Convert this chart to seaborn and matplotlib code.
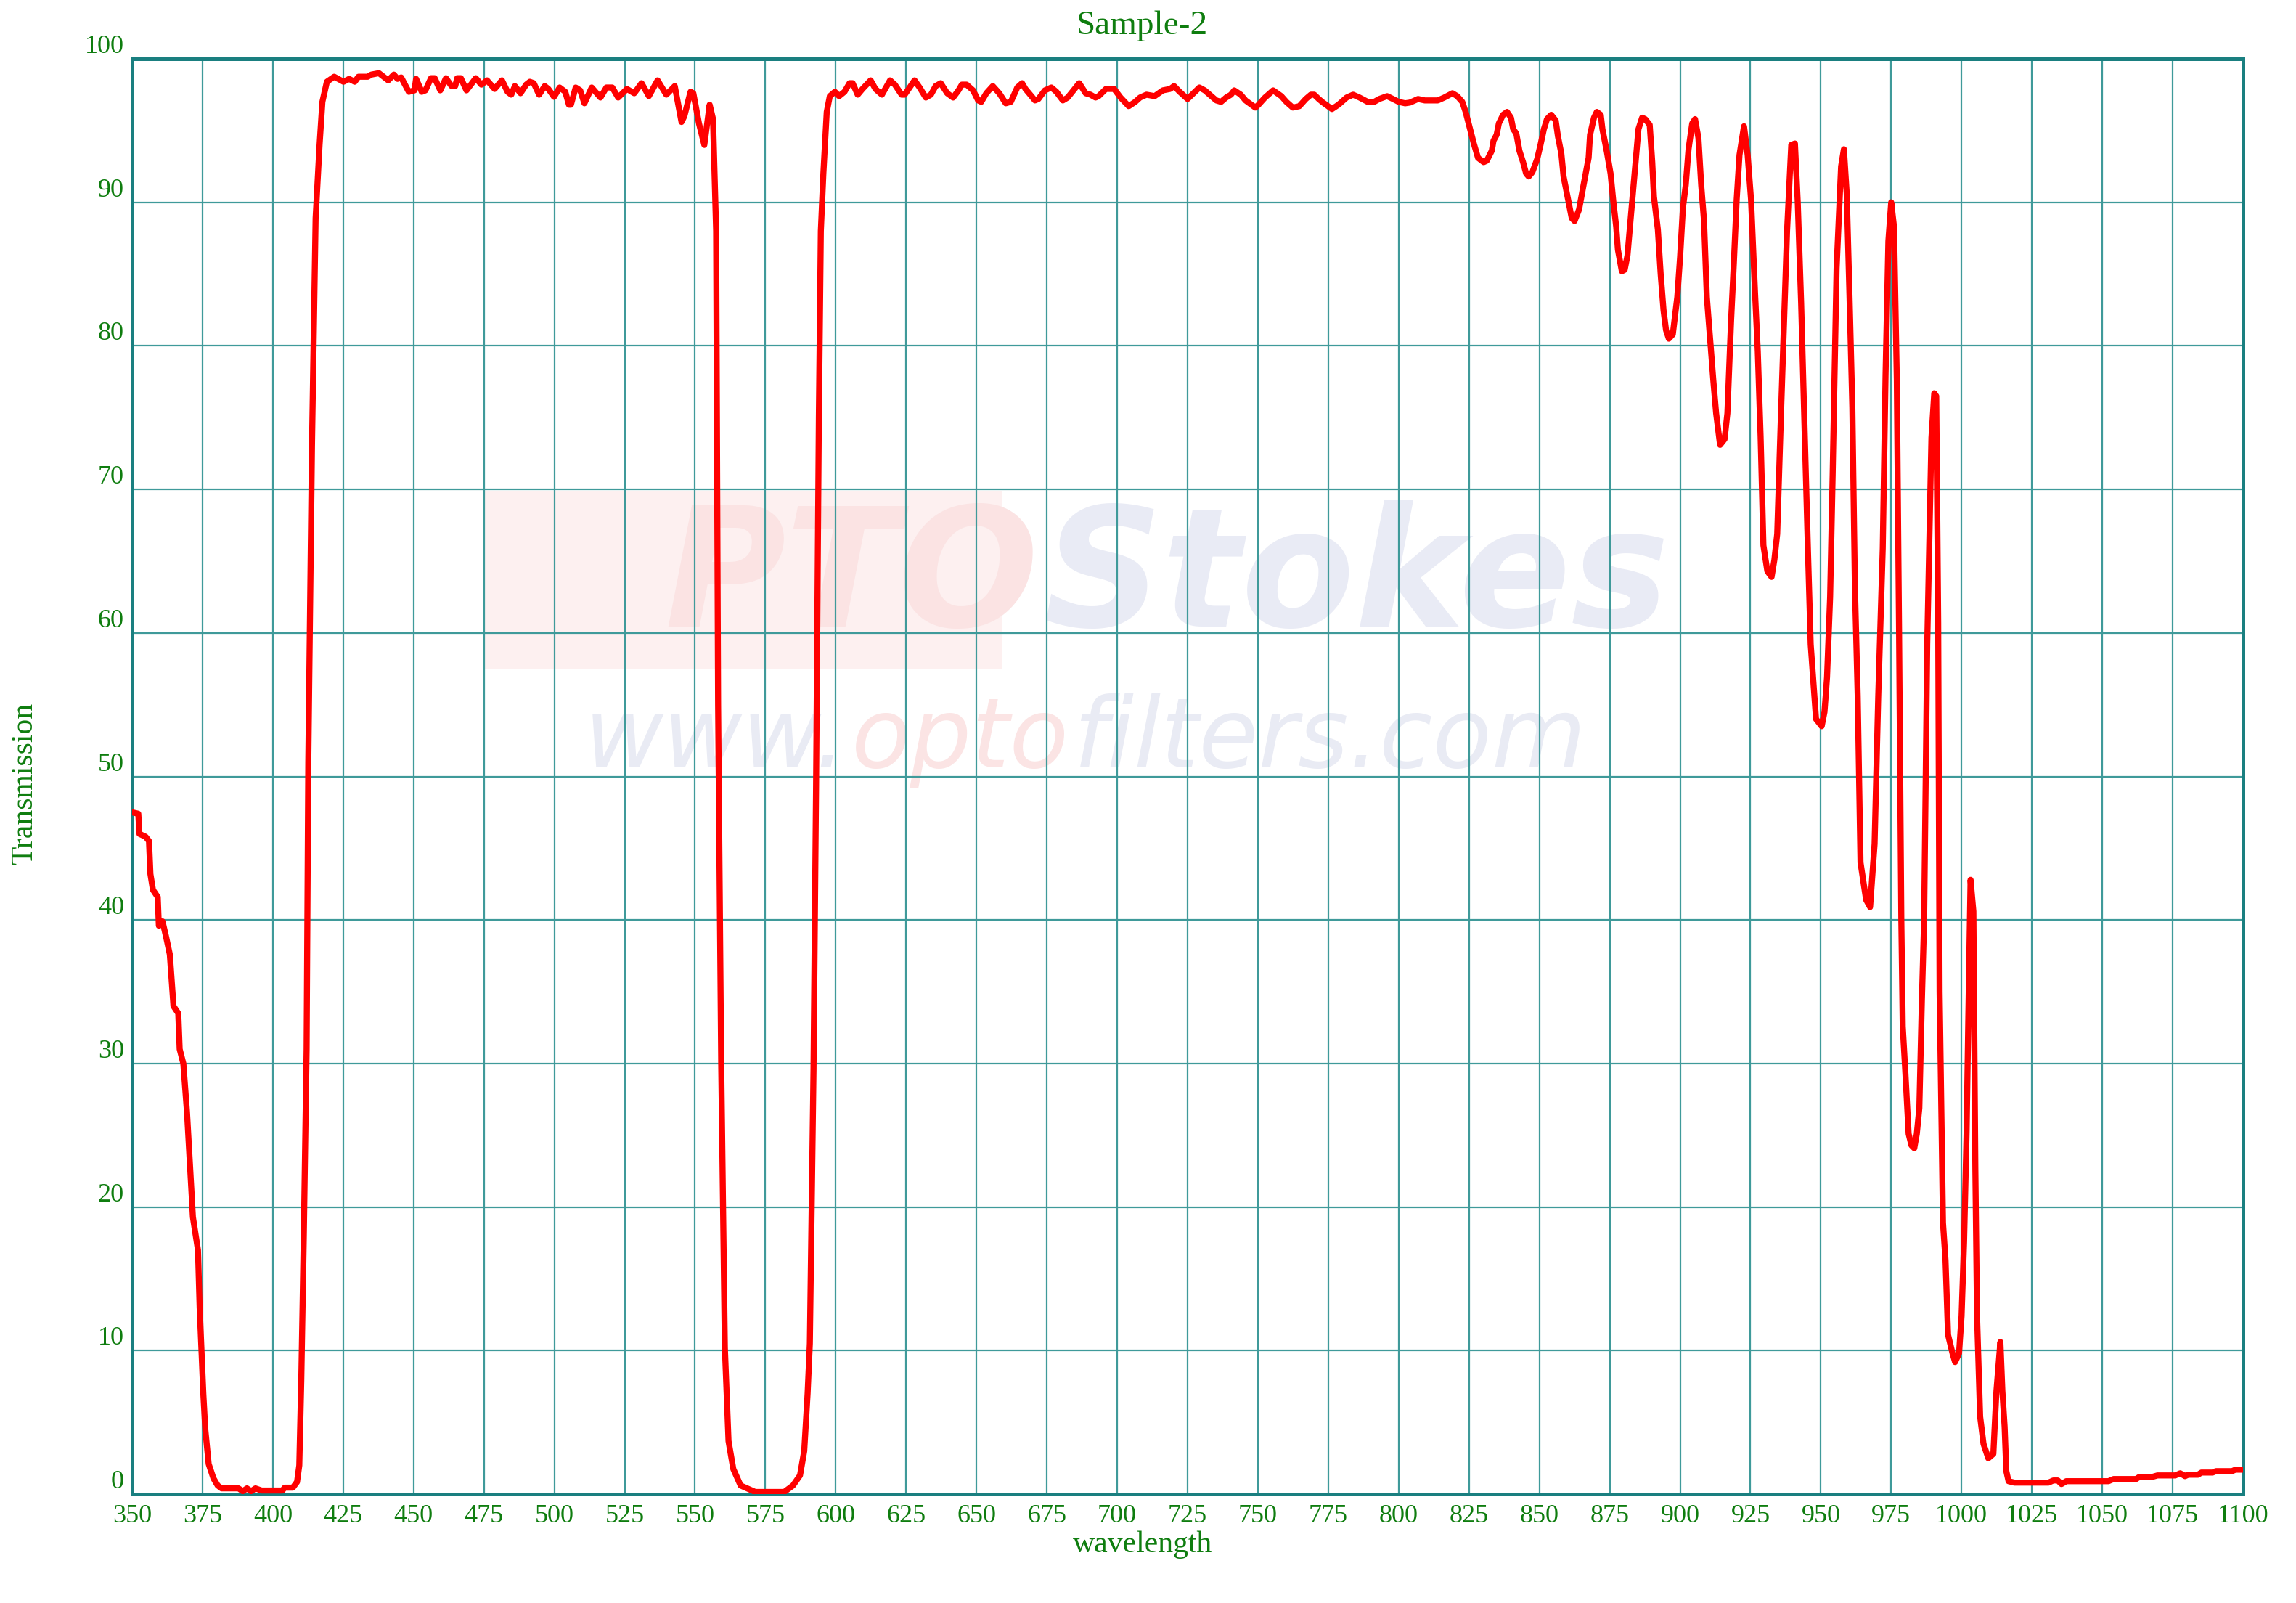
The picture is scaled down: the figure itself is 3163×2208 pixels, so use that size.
import matplotlib
matplotlib.use("Agg")
import matplotlib.pyplot as plt
import seaborn as sns
import pandas as pd
from matplotlib.patches import Rectangle

# ---------------- data ----------------
wavelength = [
    350, 352.2, 352.6, 354.8, 356.0, 356.5, 357.4, 359.1, 359.5, 360.8, 362.1, 363.4, 364.7, 366.4, 366.9,
    368.2, 369.5, 371.6, 373.4, 374.0, 375.3, 376.0, 377.2, 378.9, 380.4, 381.8, 387.8, 389.3, 390.8, 392.3,
    393.8, 396.0, 403.4, 404.2, 407.1, 408.6, 409.4, 410.1, 411.0, 412.0, 412.6, 413.9, 415.2, 416.6, 417.6,
    419.2, 421.8, 425.1, 427.1, 429.1, 430.4, 433.7, 435.0, 437.7, 441.0, 443.0, 444.3, 445.6, 448.3, 450.3,
    450.9, 452.9, 454.2, 456.2, 457.5, 459.5, 461.5, 463.5, 464.8, 465.5, 466.8, 468.8, 472.1, 474.1, 476.1,
    478.8, 481.4, 483.4, 484.7, 486.0, 488.0, 490.0, 491.3, 492.7, 494.6, 496.6, 497.9, 499.9, 501.9, 503.9,
    505.2, 505.9, 507.6, 509.2, 510.7, 513.3, 516.4, 518.5, 520.6, 522.7, 525.8, 528.4, 531.0, 533.6, 536.7,
    539.8, 542.8, 545.2, 546.2, 548.4, 549.4, 551.4, 553.3, 555.2, 556.4, 557.5, 558.2, 559.3, 560.6, 561.9,
    563.6, 566.2, 571.4, 581.7, 584.8, 587.3, 588.8, 590.0, 590.8, 592.1, 593.0, 594.0, 594.7, 595.6, 596.8,
    597.9, 599.7, 601.2, 603.1, 604.9, 606.0, 607.8, 609.5, 612.4, 614.1, 616.4, 619.3, 621.0, 623.4, 624.5,
    628.0, 629.8, 632.0, 633.8, 635.5, 637.3, 639.6, 641.7, 643.6, 644.8, 646.5, 648.8, 650.6, 651.7, 653.5,
    655.8, 658.1, 660.4, 662.2, 664.5, 666.2, 667.4, 670.8, 672.0, 674.3, 676.6, 678.4, 680.7, 682.4, 686.5,
    688.8, 690.5, 692.3, 693.4, 696.0, 698.9, 701.2, 704.1, 706.4, 708.1, 710.4, 713.3, 716.2, 718.8, 720.2,
    722.2, 725.0, 727.1, 729.2, 731.1, 734.0, 735.2, 736.9, 738.7, 740.4, 741.6, 743.9, 745.6, 749.1, 750.2,
    752.5, 755.4, 758.3, 760.1, 762.4, 764.7, 767.0, 768.8, 770.0, 771.6, 772.8, 776.3, 778.6, 781.5, 783.8,
    786.1, 789.0, 791.3, 793.1, 795.9, 798.0, 800.0, 802.3, 804.0, 806.9, 809.3, 813.9, 816.2, 819.1, 820.8,
    822.6, 823.8, 825.5, 826.7, 828.2, 830.2, 831.3, 833.1, 833.7, 834.8, 835.6, 837.1, 838.5, 839.9, 840.7,
    841.8, 842.9, 844.2, 845.3, 846.2, 847.5, 849.2, 850.4, 851.6, 852.7, 854.2, 855.8, 856.6, 857.8, 858.6,
    860.6, 861.5, 862.5, 864.1, 865.5, 867.5, 868.0, 869.4, 870.4, 871.8, 872.4, 874.0, 875.3, 876.3, 877.3,
    877.9, 879.3, 880.3, 881.3, 882.8, 883.8, 885.2, 886.5, 887.6, 889.2, 890.1, 890.7, 892.1, 893.1, 894.1,
    895.0, 896.0, 897.4, 899.0, 900.0, 901.0, 902.0, 903.0, 904.3, 905.3, 906.5, 907.5, 908.5, 909.5, 910.5,
    911.8, 912.8, 914.2, 915.8, 916.8, 918.1, 919.1, 920.1, 921.1, 922.7, 924.0, 925.2, 926.6, 927.6, 928.6,
    929.6, 931.0, 932.5, 933.5, 934.5, 935.8, 937.0, 938.0, 939.5, 940.8, 941.8, 943.0, 944.4, 945.4, 946.4,
    948.3, 950.3, 951.3, 952.2, 953.3, 954.2, 955.6, 957.2, 958.2, 959.2, 960.2, 961.2, 962.1, 963.1, 964.1,
    966.1, 967.5, 969.1, 970.4, 972.0, 973.0, 974.0, 975.0, 976.0, 977.0, 977.8, 978.6, 979.1, 980.0, 981.2,
    982.2, 983.2, 984.1, 985.0, 985.9, 986.7, 987.8, 989.3, 990.3, 991.0, 991.7, 992.2, 993.4, 994.3, 995.2,
    996.8, 997.7, 999.1, 1000.0, 1000.9, 1001.8, 1002.4, 1003.2, 1004.2, 1004.9, 1005.5, 1006.6, 1007.8, 1009.5, 1011.3,
    1012.4, 1013.8, 1014.5, 1015.3, 1015.9, 1016.7, 1018.8, 1030.9, 1032.6, 1034.2, 1035.5, 1037.2, 1052.2, 1054.0, 1062.0,
    1063.2, 1067.8, 1069.6, 1075.9, 1077.7, 1079.4, 1080.5, 1084.0, 1085.2, 1089.2, 1090.4, 1096.1, 1097.3, 1100.0,
]
transmission = [
    47.5, 47.4, 46.0, 45.8, 45.5, 43.2, 42.1, 41.6, 39.6, 39.9, 38.8, 37.6, 34.0, 33.5, 31.0,
    30.0, 26.6, 19.3, 17.0, 13.0, 7.0, 4.5, 2.1, 1.1, 0.6, 0.4, 0.4, 0.2, 0.4, 0.2,
    0.4, 0.25, 0.25, 0.45, 0.45, 0.85, 2.0, 7.9, 18.0, 31.0, 51.0, 73.0, 88.9, 94.0, 97.0,
    98.4, 98.75, 98.4, 98.6, 98.4, 98.75, 98.75, 98.9, 99.0, 98.5, 98.9, 98.6, 98.7, 97.7, 97.8,
    98.6, 97.7, 97.8, 98.65, 98.65, 97.8, 98.65, 98.1, 98.1, 98.65, 98.65, 97.8, 98.65, 98.2, 98.5,
    97.9, 98.5, 97.7, 97.5, 98.1, 97.6, 98.2, 98.4, 98.3, 97.5, 98.1, 97.9, 97.35, 98.0, 97.7,
    96.8, 96.8, 98.0, 97.8, 96.9, 98.0, 97.3, 98.0, 98.0, 97.3, 97.9, 97.6, 98.3, 97.4, 98.5,
    97.5, 98.1, 95.6, 96.0, 97.7, 97.6, 95.5, 94.0, 96.8, 95.8, 88.0, 55.0, 30.0, 10.2, 3.7,
    1.75, 0.6, 0.15, 0.15, 0.6, 1.3, 3.0, 7.0, 10.5, 29.6, 49.1, 75.0, 88.0, 92.0, 96.3,
    97.4, 97.7, 97.4, 97.7, 98.3, 98.3, 97.5, 97.9, 98.5, 97.9, 97.5, 98.5, 98.2, 97.5, 97.5,
    98.5, 98.0, 97.3, 97.5, 98.1, 98.3, 97.6, 97.3, 97.8, 98.2, 98.2, 97.8, 97.1, 97.0, 97.6,
    98.1, 97.6, 96.9, 97.0, 98.0, 98.3, 97.9, 97.1, 97.2, 97.8, 98.0, 97.7, 97.1, 97.3, 98.3,
    97.6, 97.5, 97.3, 97.4, 97.9, 97.9, 97.3, 96.7, 97.0, 97.3, 97.5, 97.4, 97.8, 97.9, 98.1,
    97.7, 97.2, 97.6, 98.0, 97.8, 97.3, 97.1, 97.0, 97.3, 97.5, 97.8, 97.5, 97.1, 96.6, 96.8,
    97.3, 97.8, 97.4, 97.0, 96.6, 96.7, 97.2, 97.5, 97.5, 97.2, 97.0, 96.5, 96.8, 97.3, 97.5,
    97.3, 97.0, 97.0, 97.2, 97.4, 97.2, 97.0, 96.9, 96.95, 97.2, 97.1, 97.1, 97.3, 97.6, 97.4,
    97.0, 96.3, 95.0, 94.1, 93.1, 92.8, 92.9, 93.6, 94.3, 94.7, 95.5, 96.1, 96.3, 95.9, 95.1,
    94.8, 93.6, 92.8, 92.0, 91.8, 92.1, 93.0, 94.0, 95.1, 95.8, 96.1, 95.7, 94.6, 93.4, 91.8,
    89.8, 88.9, 88.7, 89.5, 91.0, 93.1, 94.7, 95.9, 96.3, 96.1, 95.1, 93.5, 92.0, 90.0, 88.3,
    86.7, 85.2, 85.3, 86.3, 89.7, 92.0, 95.1, 95.9, 95.8, 95.4, 92.8, 90.4, 88.1, 85.0, 82.5,
    81.1, 80.5, 80.8, 83.4, 86.2, 89.6, 91.2, 93.7, 95.5, 95.8, 94.5, 91.2, 88.7, 83.4, 80.9,
    77.6, 75.3, 73.1, 73.5, 75.3, 81.7, 85.8, 90.2, 93.3, 95.3, 93.3, 90.2, 83.8, 79.6, 73.7,
    66.1, 64.3, 63.9, 65.1, 66.9, 75.0, 82.0, 88.0, 94.0, 94.1, 90.0, 83.0, 73.0, 65.9, 59.2,
    54.0, 53.5, 54.5, 56.9, 62.5, 71.0, 85.4, 92.5, 93.7, 90.6, 83.4, 75.7, 63.3, 55.6, 44.0,
    41.4, 40.9, 45.3, 55.6, 65.9, 78.0, 87.3, 90.0, 88.3, 77.6, 60.0, 40.0, 32.6, 29.5, 25.1,
    24.3, 24.1, 25.1, 26.9, 34.4, 40.0, 59.2, 73.6, 76.7, 76.5, 60.7, 35.0, 18.9, 16.3, 11.1,
    9.8, 9.2, 9.8, 12.4, 17.6, 25.3, 33.1, 42.8, 40.6, 22.7, 12.4, 5.4, 3.5, 2.5, 2.8,
    7.2, 10.6, 7.2, 4.7, 1.6, 0.9, 0.8, 0.8, 0.95, 0.95, 0.7, 0.9, 0.9, 1.05, 1.05,
    1.2, 1.2, 1.3, 1.3, 1.45, 1.25, 1.35, 1.35, 1.5, 1.5, 1.6, 1.6, 1.7, 1.7,
]
x_ticks = list(range(350, 1101, 25))
y_ticks = list(range(0, 101, 10))
title_text = "Sample-2"
x_label = "wavelength"
y_label = "Transmission"
wm_logo = ["PTO", "Stokes"]
wm_url = ["www.", "opto", "filters.com"]

df = pd.DataFrame({"wavelength": wavelength, "transmission": transmission})

# ---------------- style ----------------
sns.set_theme(style="white")
plt.rcParams["font.family"] = ["Liberation Serif", "DejaVu Serif"]

GREEN = "#0f7d0f"
TEAL = "#1a7f80"
GRID = "#3f9a9a"

W, H = 3163, 2208
fig = plt.figure(figsize=(W / 200, H / 200), dpi=200)
ax = fig.add_axes([182 / W, 1 - 2058 / H, (3090 - 182) / W, (2058 - 81) / H])
ax.set_zorder(1)
ax.set_facecolor("none")

# faint watermark (behind the axes content)
fig.patches.append(Rectangle((665 / W, 1 - 922 / H), (1380 - 665) / W, (922 - 676) / H,
                             transform=fig.transFigure, facecolor="#fdf0f0", edgecolor="none", zorder=0))
renderer = fig.canvas.get_renderer()


def chain(pieces, colors, x0, y0, size, weight):
    x = x0
    for txt, col in zip(pieces, colors):
        t = fig.text(x, y0, txt, fontsize=size, fontweight=weight, fontstyle="italic",
                     family="DejaVu Sans", color=col, ha="left", va="center", zorder=0.5)
        bb = t.get_window_extent(renderer=renderer)
        x += bb.width / (W) + 0.002


chain(wm_logo, ["#fbe3e3", "#e9ebf5"], 915 / W, 1 - 800 / H, 82, "bold")
chain(wm_url, ["#e9ebf4", "#fbe4e4", "#e9ebf4"], 805 / W, 1 - 1020 / H, 48, "normal")

sns.lineplot(data=df, x="wavelength", y="transmission", ax=ax, color="#ff0000",
             linewidth=3.0, sort=False, zorder=3)

ax.set_xlim(350, 1100)
ax.set_ylim(0, 100)
ax.set_xticks(x_ticks)
ax.set_yticks(y_ticks)
ax.set_xticklabels([str(t) for t in x_ticks])
ax.set_yticklabels([str(t) for t in y_ticks], va="bottom")
ax.tick_params(axis="both", length=0, labelsize=13, labelcolor=GREEN)
ax.tick_params(axis="x", pad=5)
ax.tick_params(axis="y", pad=4)

ax.grid(True, color=GRID, linewidth=0.8, zorder=1)
ax.set_axisbelow(True)
for sp in ax.spines.values():
    sp.set_visible(True)
    sp.set_color(TEAL)
    sp.set_linewidth(1.8)

ax.set_xlabel("")
ax.set_ylabel("")
fig.text(0.4975, 1 - 36 / H, title_text, fontsize=17, color=GREEN, ha="center", va="center")
fig.text(0.4975, 1 - 2128 / H, x_label, fontsize=15, color=GREEN, ha="center", va="center")
fig.text(34 / W, 1 - 1079 / H, y_label, fontsize=15, color=GREEN, ha="center", va="center",
         rotation=90)

fig.savefig("out.png", dpi=200, facecolor="white")
